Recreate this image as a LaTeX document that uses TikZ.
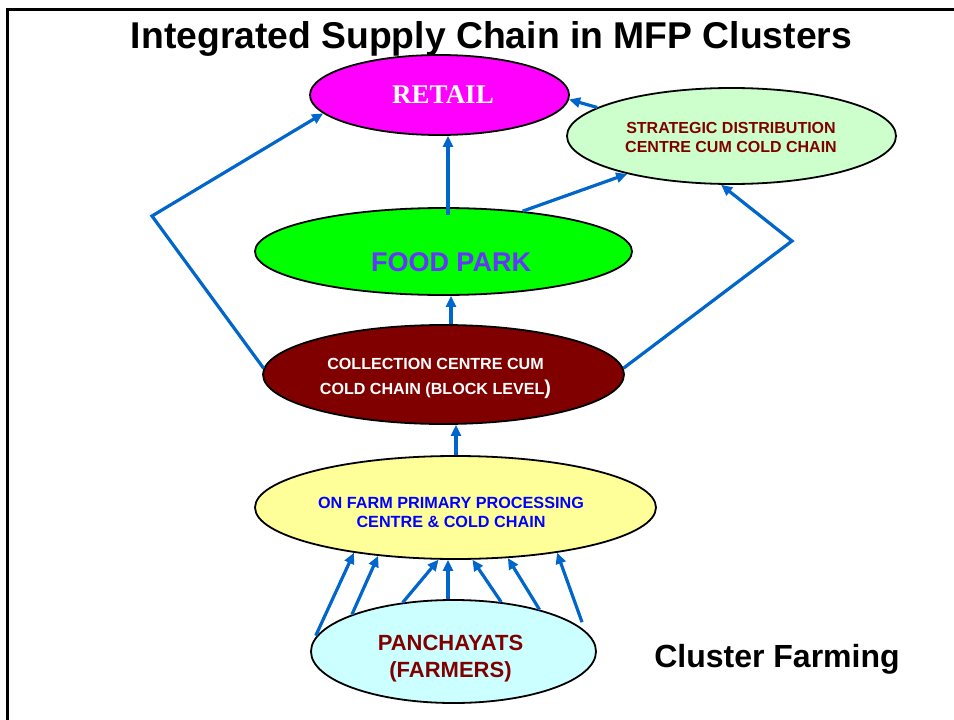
\documentclass[tikz,border=0pt]{standalone}
\usepackage{fontspec}
\setmainfont{Liberation Sans}
\newfontfamily\timesfont{Liberation Serif}
\usetikzlibrary{shapes.geometric,arrows.meta}
\definecolor{arrowblue}{RGB}{0,102,204}
\definecolor{darkred}{RGB}{128,0,0}
\definecolor{retailfill}{RGB}{255,0,255}
\definecolor{stratfill}{RGB}{204,255,204}
\definecolor{foodfill}{RGB}{0,255,0}
\definecolor{foodtext}{RGB}{102,51,255}
\definecolor{farmfill}{RGB}{255,255,153}
\definecolor{farmtext}{RGB}{0,0,255}
\definecolor{panchfill}{RGB}{204,255,255}
\begin{document}
\begin{tikzpicture}[x=1pt,y=-1pt,
  oval/.style={ellipse,draw=black,line width=1.8pt,inner sep=0pt},
  arr/.style={draw=arrowblue,line width=3.2pt,-{Triangle[length=11pt,width=10pt]}},
  lbl/.style={align=center,inner sep=0pt,anchor=base},
]
\useasboundingbox (0,0) rectangle (954,720);
% frame
\coordinate (frTL) at (7.5,9.5);
\coordinate (frTR) at (954,9.5);
\coordinate (frBL) at (7.5,720);
\draw[line width=2.5pt,black] (frTR) -- (frTL) -- (frBL);

% title
\node[lbl,font=\bfseries\fontsize{37.3}{42}\selectfont] (title) at (491.5,48) {Integrated Supply Chain in MFP Clusters};

% ellipses
\node[oval,fill=retailfill,minimum width=259pt,minimum height=80pt] (retail) at (439.5,95) {};
\node[oval,fill=stratfill,minimum width=329pt,minimum height=96pt] (strat) at (731.5,136) {};
\node[oval,fill=foodfill,minimum width=377pt,minimum height=87pt] (food) at (443.5,251.5) {};
\node[oval,fill=darkred,minimum width=361pt,minimum height=99pt] (coll) at (443.5,374.5) {};
\node[oval,fill=farmfill,minimum width=401pt,minimum height=103pt] (farm) at (455.5,507.5) {};
\node[oval,fill=panchfill,minimum width=285pt,minimum height=103pt] (panch) at (453.5,651.5) {};

% texts (base = baseline of last line)
\node[lbl,text=white,font=\timesfont\bfseries\fontsize{27}{30}\selectfont] (retailtxt) at (443,103) {RETAIL};
\node[lbl,text=darkred,font=\bfseries\fontsize{16}{19}\selectfont] (strattxt) at (731,152) {STRATEGIC DISTRIBUTION\\CENTRE CUM COLD CHAIN};
\node[lbl,text=foodtext,font=\bfseries\fontsize{27}{30}\selectfont] (foodtxt) at (451,271) {FOOD PARK};
\node[lbl,text=white,font=\bfseries\fontsize{16.1}{25}\selectfont] (colltxt) at (435.5,394) {COLLECTION CENTRE CUM\\COLD CHAIN (BLOCK LEVEL{\fontsize{20}{25}\selectfont )}};
\node[lbl,text=farmtext,font=\bfseries\fontsize{16.2}{19}\selectfont] (farmtxt) at (451,527) {ON FARM PRIMARY PROCESSING\\CENTRE \& COLD CHAIN};
\node[lbl,text=darkred,font=\bfseries\fontsize{22}{27}\selectfont] (panchtxt) at (450.5,677) {PANCHAYATS\\(FARMERS)};
\node[lbl,font=\bfseries\fontsize{32}{36}\selectfont] (cluster) at (777,667) {Cluster Farming};

% bends
\coordinate (bendL) at (152,216);
\coordinate (bendR) at (792,241);

% connectors
\draw[arr] (coll.178) -- (bendL) -- (retail.189);
\draw[arr] ([xshift=4.5pt,yshift=-8pt]food.north) -- ([xshift=8.5pt]retail.south);
\draw[arr] ([xshift=7.5pt]coll.north) -- ([xshift=7.5pt]food.south);
\draw[arr] (food.27) -- (strat.200);
\draw[arr] (strat.168) -- (retail.358);
\draw[arr] (coll.2) -- (bendR) -- (strat.258);
\draw[arr] ([xshift=0.5pt]farm.north) -- ([xshift=12.5pt]coll.south);

% fan
\draw[arr,shorten <=4pt] (panch.175) -- (farm.204);
\draw[arr] (panch.160) -- (farm.212);
\draw[arr] (panch.136) -- (farm.252);
\draw[arr] ([xshift=-5.5pt]panch.north) -- ([xshift=-7.5pt]farm.south);
\draw[arr] (panch.46) -- (farm.288);
\draw[arr] (panch.26) -- (farm.316);
\draw[arr,shorten <=9pt] (panch.9) -- (farm.336);
\end{tikzpicture}
\end{document}
